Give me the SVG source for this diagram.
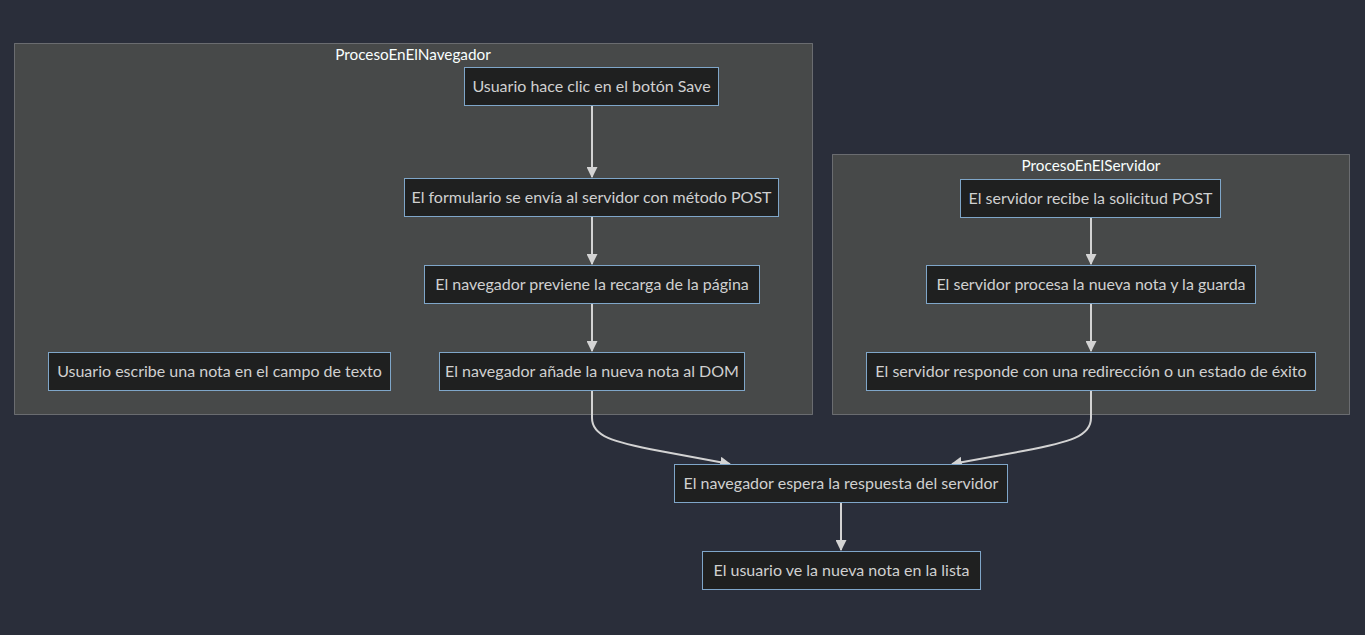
<svg xmlns="http://www.w3.org/2000/svg" width="1365" height="635" viewBox="0 0 1365 635">
<defs>
<style>
.cl{fill:#474949;stroke:rgba(255,255,255,0.25);stroke-width:1}
.ct{fill:#F9FFFE;font-family:Lato,"DejaVu Sans",sans-serif;font-size:15.3px;text-anchor:middle}
.nd{fill:#1f2020;stroke:#7fa6c9;stroke-width:1}
.nt{fill:#d0d0d0;font-family:Lato,"DejaVu Sans",sans-serif;font-size:16px;text-anchor:middle;dominant-baseline:central}
.ed{fill:none;stroke:#d3d3d3;stroke-width:2;marker-end:url(#ah)}
</style>
<marker id="ah" viewBox="0 0 10 10" refX="9" refY="5" markerWidth="11" markerHeight="11" markerUnits="userSpaceOnUse" orient="auto">
<path d="M0,0 L10,5 L0,10 z" fill="#d3d3d3"/>
</marker>
</defs>
<rect width="1365" height="635" fill="#2a2e3a"/>
<g id="cluster-navegador">
<rect class="cl" x="14.5" y="43.5" width="798" height="371"/>
<text class="ct" x="413" y="60">ProcesoEnElNavegador</text>
</g>
<g id="cluster-servidor">
<rect class="cl" x="832.5" y="154.5" width="517" height="260"/>
<text class="ct" x="1091" y="171">ProcesoEnElServidor</text>
</g>
<g id="edges">
<path class="ed" d="M592,106 V177"/>
<path class="ed" d="M592,217 V264"/>
<path class="ed" d="M592,304 V351"/>
<path class="ed" d="M1091,218 V264"/>
<path class="ed" d="M1091,304 V351"/>
<path class="ed" d="M592,391 V418 C592,436 612,442 660,451 L730,464"/>
<path class="ed" d="M1091,391 V418 C1091,436 1071,442 1023,451 L952,464"/>
<path class="ed" d="M841,502 V550"/>
</g>
<g id="n-escribe">
<rect class="nd" x="48.5" y="352.5" width="342" height="38"/>
<text class="nt" x="219.5" y="370.5">Usuario escribe una nota en el campo de texto</text>
</g>
<g id="n-clic">
<rect class="nd" x="464.5" y="67.5" width="254" height="38"/>
<text class="nt" x="591.5" y="85.5">Usuario hace clic en el botón Save</text>
</g>
<g id="n-formulario">
<rect class="nd" x="404.5" y="178.5" width="374" height="38"/>
<text class="nt" x="591.5" y="196.5">El formulario se envía al servidor con método POST</text>
</g>
<g id="n-previene">
<rect class="nd" x="424.5" y="265.5" width="335" height="38"/>
<text class="nt" x="592" y="283.5">El navegador previene la recarga de la página</text>
</g>
<g id="n-dom">
<rect class="nd" x="439.5" y="352.5" width="305" height="38"/>
<text class="nt" x="592" y="370.5">El navegador añade la nueva nota al DOM</text>
</g>
<g id="n-recibe">
<rect class="nd" x="960.5" y="179.5" width="260" height="38"/>
<text class="nt" x="1090.5" y="197.5">El servidor recibe la solicitud POST</text>
</g>
<g id="n-procesa">
<rect class="nd" x="926.5" y="265.5" width="329" height="38"/>
<text class="nt" x="1091" y="283.5">El servidor procesa la nueva nota y la guarda</text>
</g>
<g id="n-responde">
<rect class="nd" x="866.5" y="352.5" width="449" height="38"/>
<text class="nt" x="1091" y="370.5">El servidor responde con una redirección o un estado de éxito</text>
</g>
<g id="n-espera">
<rect class="nd" x="674.5" y="464.5" width="333" height="38"/>
<text class="nt" x="841" y="482.5">El navegador espera la respuesta del servidor</text>
</g>
<g id="n-lista">
<rect class="nd" x="702.5" y="551.5" width="278" height="38"/>
<text class="nt" x="841.5" y="569.5">El usuario ve la nueva nota en la lista</text>
</g>
</svg>
